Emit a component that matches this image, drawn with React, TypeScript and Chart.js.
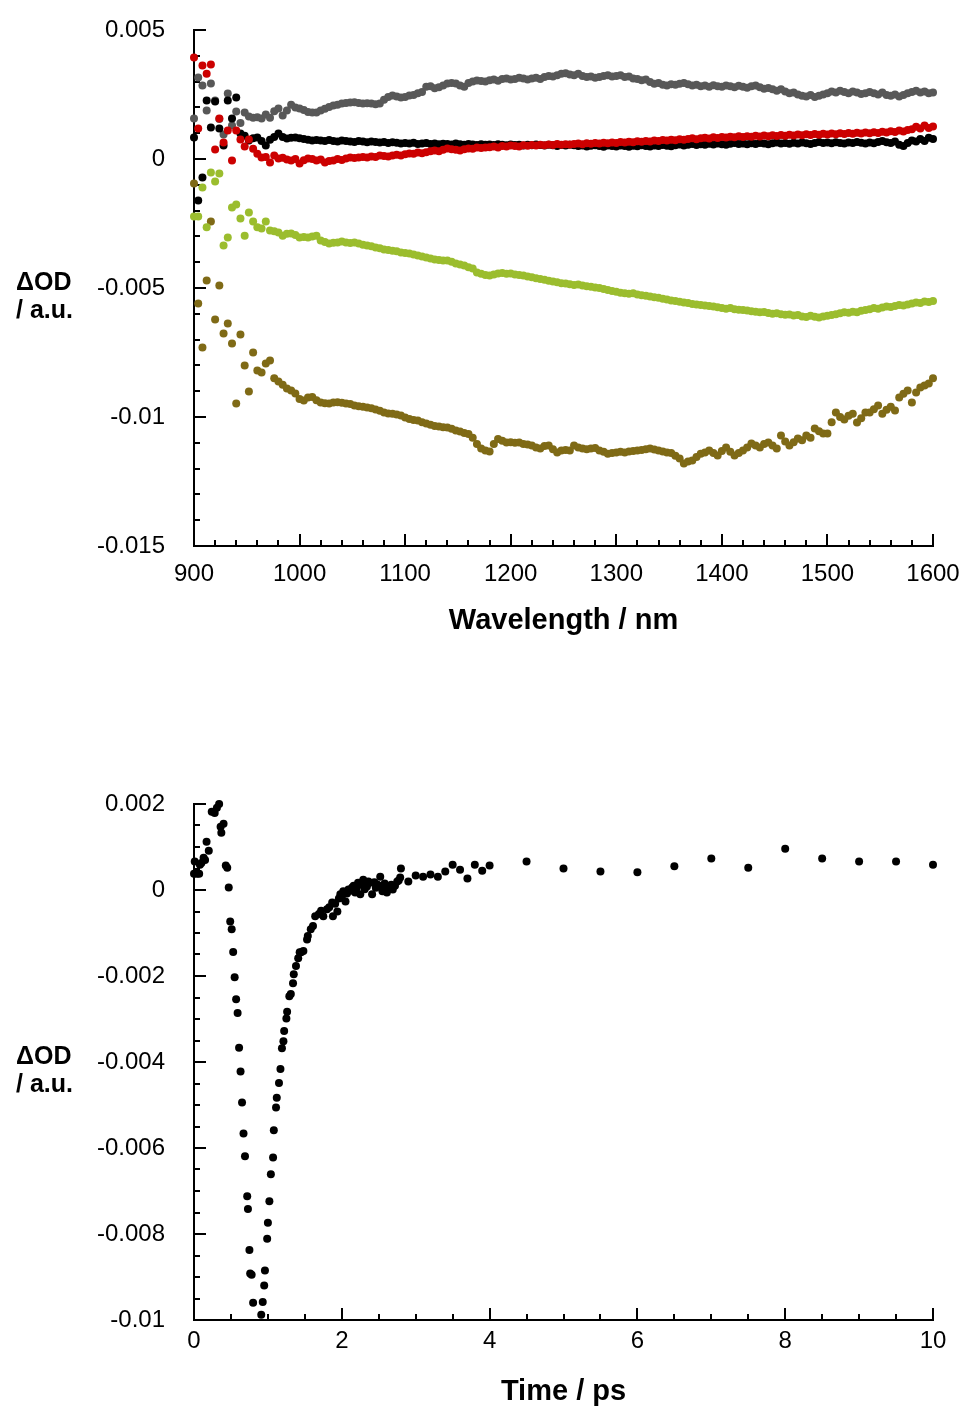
import React, { useEffect, useRef } from 'react';
import { Chart, registerables } from 'chart.js';

Chart.register(...registerables);

const FONT = '"Liberation Sans", Arial, Helvetica, sans-serif';
const INK = '#000000';

const GRAY = '#585858';
const BLACK = '#000000';
const RED = '#cc0000';
const LIME = '#9bbd2e';
const OLIVE = '#7f6a16';

// ---------- Spectra (ΔOD in units of 1e-3) ----------
const wavelengths = [
  900, 904, 908, 912, 916, 920, 924, 928, 932, 936,
  940, 944, 948, 952, 956, 960, 964, 968, 972, 976,
  980, 984, 988, 992, 996, 1000, 1004, 1008, 1012, 1016,
  1020, 1024, 1028, 1032, 1036, 1040, 1044, 1048, 1052, 1056,
  1060, 1064, 1068, 1072, 1076, 1080, 1084, 1088, 1092, 1096,
  1100, 1104, 1108, 1112, 1116, 1120, 1124, 1128, 1132, 1136,
  1140, 1144, 1148, 1152, 1156, 1160, 1164, 1168, 1172, 1176,
  1180, 1184, 1188, 1192, 1196, 1200, 1204, 1208, 1212, 1216,
  1220, 1224, 1228, 1232, 1236, 1240, 1244, 1248, 1252, 1256,
  1260, 1264, 1268, 1272, 1276, 1280, 1284, 1288, 1292, 1296,
  1300, 1304, 1308, 1312, 1316, 1320, 1324, 1328, 1332, 1336,
  1340, 1344, 1348, 1352, 1356, 1360, 1364, 1368, 1372, 1376,
  1380, 1384, 1388, 1392, 1396, 1400, 1404, 1408, 1412, 1416,
  1420, 1424, 1428, 1432, 1436, 1440, 1444, 1448, 1452, 1456,
  1460, 1464, 1468, 1472, 1476, 1480, 1484, 1488, 1492, 1496,
  1500, 1504, 1508, 1512, 1516, 1520, 1524, 1528, 1532, 1536,
  1540, 1544, 1548, 1552, 1556, 1560, 1564, 1568, 1572, 1576,
  1580, 1584, 1588, 1592, 1596, 1600,
];

const grayTrace = [
  1.57, 3.16, 2.85, 1.88, 2.93, 2.27, 1.55, 0.95, 2.54, 1.30,
  1.84, 1.40, 1.80, 1.65, 1.60, 1.62, 1.57, 1.72, 1.60, 1.85,
  1.96, 1.69, 1.88, 2.10, 2.00, 1.96, 1.90, 1.82, 1.80, 1.80,
  1.88, 1.95, 2.02, 2.07, 2.10, 2.15, 2.17, 2.19, 2.20, 2.17,
  2.15, 2.16, 2.15, 2.12, 2.15, 2.30, 2.40, 2.46, 2.42, 2.38,
  2.40, 2.46, 2.48, 2.55, 2.60, 2.80, 2.82, 2.74, 2.78, 2.85,
  2.93, 2.95, 2.93, 2.85, 2.80, 2.95, 3.00, 3.04, 3.02, 3.00,
  3.05, 3.08, 3.03, 3.10, 3.12, 3.08, 3.10, 3.15, 3.12, 3.08,
  3.12, 3.15, 3.10, 3.18, 3.22, 3.20, 3.25, 3.30, 3.32, 3.28,
  3.25, 3.30, 3.22, 3.18, 3.20, 3.15, 3.18, 3.22, 3.25, 3.20,
  3.22, 3.25, 3.18, 3.20, 3.12, 3.10, 3.05, 3.08, 2.98, 2.92,
  2.95, 2.88, 2.85, 2.90, 2.88, 2.92, 2.95, 2.90, 2.85, 2.88,
  2.82, 2.85, 2.80, 2.86, 2.82, 2.80, 2.85, 2.82, 2.78, 2.84,
  2.80, 2.76, 2.82, 2.85, 2.78, 2.72, 2.75, 2.70, 2.65, 2.70,
  2.62, 2.55, 2.58, 2.50, 2.45, 2.42, 2.48, 2.40, 2.45, 2.50,
  2.55, 2.62, 2.58, 2.65, 2.60, 2.55, 2.62, 2.58, 2.52, 2.55,
  2.60, 2.55, 2.50, 2.58, 2.48, 2.45, 2.50, 2.42, 2.48, 2.55,
  2.60, 2.65, 2.58, 2.62, 2.55, 2.58,
];

const blackTrace = [
  0.83, -1.61, -0.72, 2.27, 1.22, 2.23, 1.18, 0.52, 2.27, 1.57,
  2.38, 0.99, 0.90, 0.72, 0.80, 0.83, 0.70, 0.52, 0.75, 0.85,
  0.99, 0.85, 0.79, 0.82, 0.83, 0.80, 0.78, 0.75, 0.72, 0.74,
  0.72, 0.70, 0.74, 0.70, 0.68, 0.72, 0.70, 0.68, 0.66, 0.70,
  0.68, 0.65, 0.68, 0.66, 0.64, 0.66, 0.62, 0.65, 0.63, 0.60,
  0.62, 0.60, 0.63, 0.58, 0.60, 0.62, 0.58, 0.60, 0.57, 0.59,
  0.58, 0.56, 0.60, 0.57, 0.55, 0.58, 0.56, 0.54, 0.57, 0.55,
  0.56, 0.54, 0.57, 0.55, 0.53, 0.56, 0.54, 0.55, 0.52, 0.55,
  0.53, 0.56, 0.54, 0.52, 0.55, 0.53, 0.50, 0.54, 0.52, 0.55,
  0.53, 0.50, 0.52, 0.48, 0.51, 0.53, 0.50, 0.47, 0.52, 0.50,
  0.48, 0.52, 0.50, 0.47, 0.51, 0.49, 0.53, 0.50, 0.48, 0.52,
  0.50, 0.54, 0.51, 0.49, 0.53, 0.56, 0.52, 0.55, 0.58, 0.54,
  0.57, 0.55, 0.59, 0.56, 0.60, 0.57, 0.55, 0.59, 0.62, 0.58,
  0.60, 0.57, 0.61, 0.58, 0.62, 0.60, 0.57, 0.61, 0.64, 0.60,
  0.62, 0.59, 0.63, 0.60, 0.64, 0.61, 0.58, 0.62, 0.66, 0.62,
  0.64, 0.61, 0.65, 0.62, 0.60, 0.64, 0.62, 0.66, 0.63, 0.60,
  0.64, 0.61, 0.66, 0.70, 0.65, 0.62, 0.68, 0.55, 0.50, 0.62,
  0.72, 0.68, 0.78, 0.70, 0.82, 0.78,
];

const redTrace = [
  3.93, 1.18, 3.62, 3.30, 3.66, 0.37, 1.57, 0.64, 1.10, -0.06,
  1.10, 0.76, 0.48, 0.76, 0.40, 0.20, 0.06, 0.08, -0.14, 0.14,
  0.02, 0.05, -0.02, -0.06, 0.00, -0.17, -0.05, 0.02, 0.00, -0.06,
  -0.02, -0.14, -0.08, -0.06, 0.00, -0.04, 0.02, 0.06, 0.04, 0.06,
  0.08, 0.06, 0.10, 0.08, 0.14, 0.12, 0.10, 0.14, 0.16, 0.14,
  0.18, 0.21, 0.20, 0.25, 0.22, 0.26, 0.30, 0.33, 0.30, 0.36,
  0.41, 0.38, 0.36, 0.33, 0.38, 0.41, 0.40, 0.45, 0.43, 0.45,
  0.46, 0.48, 0.45, 0.50, 0.48, 0.52, 0.50, 0.48, 0.53, 0.51,
  0.54, 0.52, 0.55, 0.53, 0.56, 0.54, 0.58, 0.55, 0.57, 0.56,
  0.58, 0.60, 0.57, 0.61, 0.59, 0.62, 0.60, 0.63, 0.61, 0.64,
  0.62, 0.66, 0.64, 0.67, 0.65, 0.69, 0.67, 0.70, 0.68, 0.72,
  0.70, 0.74, 0.72, 0.75, 0.73, 0.77, 0.75, 0.78, 0.80, 0.77,
  0.80, 0.82, 0.79, 0.84, 0.81, 0.85, 0.83, 0.86, 0.84, 0.88,
  0.85, 0.88, 0.86, 0.90, 0.87, 0.91, 0.88, 0.92, 0.89, 0.93,
  0.90, 0.94, 0.91, 0.95, 0.92, 0.96, 0.93, 0.97, 0.94, 0.98,
  0.95, 0.99, 0.96, 1.00, 0.97, 1.01, 0.98, 1.02, 0.99, 1.03,
  1.00, 1.04, 1.01, 1.06, 1.03, 1.08, 1.05, 1.10, 1.07, 1.12,
  1.15, 1.25, 1.18, 1.30, 1.20, 1.26,
];

const limeTrace = [
  -2.23, -2.23, -1.10, -2.65, -0.52, -0.87, -0.56, -3.35, -3.04, -1.88,
  -1.76, -2.31, -2.97, -2.07, -2.42, -2.65, -2.69, -2.42, -2.77, -2.80,
  -2.85, -2.97, -2.90, -2.89, -2.95, -3.04, -3.02, -3.04, -3.00, -2.97,
  -3.16, -3.22, -3.28, -3.25, -3.24, -3.20, -3.24, -3.26, -3.24, -3.28,
  -3.32, -3.35, -3.38, -3.43, -3.46, -3.51, -3.53, -3.56, -3.58, -3.62,
  -3.64, -3.66, -3.70, -3.74, -3.78, -3.82, -3.86, -3.90, -3.91, -3.93,
  -3.93, -3.98, -4.05, -4.09, -4.13, -4.20, -4.24, -4.40, -4.45, -4.50,
  -4.52, -4.48, -4.44, -4.42, -4.45, -4.44, -4.48, -4.50, -4.52, -4.55,
  -4.58, -4.62, -4.65, -4.68, -4.72, -4.75, -4.78, -4.82, -4.83, -4.85,
  -4.88, -4.86, -4.90, -4.93, -4.95, -4.98, -5.00, -5.04, -5.08, -5.12,
  -5.15, -5.18, -5.20, -5.22, -5.20, -5.25, -5.28, -5.30, -5.33, -5.36,
  -5.38, -5.42, -5.45, -5.48, -5.50, -5.53, -5.56, -5.58, -5.62, -5.64,
  -5.66, -5.68, -5.70, -5.72, -5.75, -5.78, -5.80, -5.78, -5.82, -5.84,
  -5.85, -5.87, -5.90, -5.92, -5.94, -5.93, -5.97, -6.00, -5.98, -6.02,
  -6.04, -6.03, -6.07, -6.05, -6.10, -6.12, -6.08, -6.11, -6.14, -6.10,
  -6.08, -6.05, -6.02, -5.98, -5.94, -5.96, -5.92, -5.94, -5.88, -5.85,
  -5.82, -5.78, -5.80, -5.76, -5.72, -5.74, -5.70, -5.66, -5.68, -5.64,
  -5.60, -5.56, -5.58, -5.52, -5.54, -5.50,
];

const oliveTrace = [
  -0.95, -5.60, -7.31, -4.71, -2.42, -6.22, -4.90, -6.76, -6.38, -7.15,
  -9.48, -6.80, -8.00, -9.01, -7.50, -8.20, -8.28, -7.93, -7.81, -8.50,
  -8.62, -8.75, -8.90, -8.97, -9.09, -9.30, -9.36, -9.24, -9.22, -9.35,
  -9.44, -9.47, -9.48, -9.44, -9.43, -9.45, -9.48, -9.50, -9.55, -9.58,
  -9.60, -9.63, -9.66, -9.71, -9.76, -9.83, -9.86, -9.87, -9.90, -9.94,
  -10.02, -10.08, -10.12, -10.14, -10.20, -10.25, -10.30, -10.35, -10.37, -10.40,
  -10.41, -10.46, -10.52, -10.56, -10.62, -10.66, -10.80, -11.05, -11.22, -11.30,
  -11.34, -11.05, -10.85, -10.92, -10.99, -10.98, -11.00, -10.99, -11.05, -11.07,
  -11.10, -11.18, -11.22, -11.12, -11.10, -11.25, -11.38, -11.30, -11.28, -11.30,
  -11.10, -11.18, -11.22, -11.25, -11.22, -11.20, -11.30, -11.35, -11.42, -11.40,
  -11.38, -11.35, -11.38, -11.34, -11.32, -11.30, -11.28, -11.25, -11.22, -11.26,
  -11.30, -11.34, -11.38, -11.40, -11.50, -11.61, -11.80, -11.72, -11.69, -11.55,
  -11.42, -11.38, -11.30, -11.40, -11.49, -11.32, -11.18, -11.35, -11.49, -11.40,
  -11.30, -11.18, -11.03, -11.10, -11.18, -11.05, -10.99, -11.10, -11.22, -10.72,
  -10.95, -11.10, -10.98, -10.83, -10.90, -10.72, -10.80, -10.45, -10.55, -10.64,
  -10.64, -10.20, -9.83, -10.00, -10.10, -9.95, -9.87, -10.21, -10.05, -9.83,
  -9.83, -9.70, -9.55, -9.87, -9.72, -9.60, -9.75, -9.24, -9.10, -8.97,
  -9.44, -9.05, -8.86, -8.78, -8.70, -8.50,
];

// ---------- Kinetics (time in ps, ΔOD in units of 1e-3) ----------
const kineticTimes = [
  0.00, 0.01, 0.04, 0.07, 0.08, 0.10, 0.13, 0.15, 0.17, 0.20,
  0.24, 0.28, 0.31, 0.34, 0.36, 0.37, 0.40, 0.43, 0.45, 0.47,
  0.49, 0.51, 0.53, 0.55, 0.57, 0.59, 0.61, 0.63, 0.65, 0.67,
  0.69, 0.72, 0.73, 0.75, 0.76, 0.78, 0.80, 0.91, 0.93, 0.95,
  0.96, 0.99, 1.00, 1.02, 1.04, 1.07, 1.08, 1.11, 1.12, 1.15,
  1.17, 1.19, 1.21, 1.22, 1.25, 1.26, 1.29, 1.31, 1.34, 1.35,
  1.38, 1.41, 1.43, 1.45, 1.48, 1.53, 1.54, 1.58, 1.61, 1.64,
  1.69, 1.72, 1.75, 1.80, 1.83, 1.87, 1.88, 1.91, 1.94, 1.96,
  1.98, 2.00, 2.02, 2.05, 2.07, 2.09, 2.11, 2.14, 2.16, 2.18,
  2.20, 2.22, 2.25, 2.27, 2.29, 2.31, 2.34, 2.36, 2.38, 2.41,
  2.44, 2.46, 2.48, 2.50, 2.52, 2.55, 2.56, 2.58, 2.61, 2.63,
  2.65, 2.67, 2.69, 2.72, 2.75, 2.77, 2.79, 2.80, 2.90, 3.00,
  3.10, 3.20, 3.30, 3.40, 3.50, 3.60, 3.70, 3.80, 3.90, 4.00,
  4.50, 5.00, 5.50, 6.00, 6.50, 7.00, 7.50, 8.00, 8.50, 9.00,
  9.50, 10.00,
];

const kineticValues = [
  0.38, 0.66, 0.38, 0.38, 0.59, 0.63, 0.75, 0.70, 1.12, 0.91,
  1.82, 1.79, 1.91, 2.00, 1.47, 1.33, 1.54, 0.57, 0.52, 0.06,
  -0.73, -0.91, -1.44, -2.03, -2.54, -2.86, -3.67, -4.22, -4.94, -5.66,
  -6.19, -7.12, -7.42, -8.37, -8.92, -8.95, -9.60, -9.88, -9.58, -9.20,
  -8.85, -8.11, -7.74, -7.24, -6.61, -6.22, -5.59, -5.06, -4.83, -4.49,
  -4.16, -3.68, -3.52, -3.28, -2.99, -2.83, -2.47, -2.42, -2.17, -1.96,
  -1.77, -1.59, -1.45, -1.45, -1.42, -1.15, -1.07, -0.91, -0.84, -0.61,
  -0.56, -0.48, -0.61, -0.45, -0.40, -0.29, -0.61, -0.32, -0.50, -0.20,
  -0.10, -0.18, -0.03, -0.27, -0.08, 0.01, -0.02, 0.06, 0.10, -0.06,
  0.04, 0.17, -0.10, 0.12, 0.24, 0.02, 0.08, 0.20, 0.17, -0.10,
  0.18, 0.05, 0.13, 0.10, 0.31, -0.03, 0.08, 0.15, -0.06, 0.02,
  0.08, 0.12, 0.01, 0.10, 0.20, 0.22, 0.29, 0.50, 0.20, 0.34,
  0.31, 0.36, 0.31, 0.43, 0.59, 0.47, 0.27, 0.59, 0.45, 0.57,
  0.66, 0.50, 0.43, 0.41, 0.55, 0.73, 0.52, 0.96, 0.73, 0.66,
  0.66, 0.59,
];

// ---------- Axis tick specs ----------
type TickSpec = { min: number; max: number; major: number; minor: number };
const spectraX: TickSpec = { min: 900, max: 1600, major: 100, minor: 20 };
const spectraY: TickSpec = { min: -15, max: 5, major: 5, minor: 1 };
const kineticsX: TickSpec = { min: 0, max: 10, major: 2, minor: 0.5 };
const kineticsY: TickSpec = { min: -10, max: 2, major: 2, minor: 0.5 };

const Y_TITLE = ['\u0394OD', '/ a.u.'];

function inwardTicks(xs: TickSpec, ys: TickSpec) {
  return {
    id: 'inwardTicks',
    beforeDatasetsDraw(chart: any) {
      const { ctx, chartArea, scales } = chart;
      ctx.save();
      ctx.strokeStyle = INK;
      ctx.lineWidth = 2;
      ctx.beginPath();
      const nx = Math.round((xs.max - xs.min) / xs.minor);
      const px = Math.round(xs.major / xs.minor);
      for (let i = 0; i <= nx; i++) {
        const p = Math.round(scales.x.getPixelForValue(xs.min + i * xs.minor));
        const len = i % px === 0 ? 12 : 6;
        ctx.moveTo(p, chartArea.bottom);
        ctx.lineTo(p, chartArea.bottom - len);
      }
      const ny = Math.round((ys.max - ys.min) / ys.minor);
      const py = Math.round(ys.major / ys.minor);
      for (let i = 0; i <= ny; i++) {
        const p = Math.round(scales.y.getPixelForValue(ys.min + i * ys.minor));
        const len = i % py === 0 ? 12 : 6;
        ctx.moveTo(chartArea.left, p);
        ctx.lineTo(chartArea.left + len, p);
      }
      ctx.stroke();
      ctx.restore();
    },
  };
}

function sideTitle(baselines: number[]) {
  return {
    id: 'sideTitle',
    afterDraw(chart: any) {
      const { ctx } = chart;
      ctx.save();
      ctx.font = `bold 25px ${FONT}`;
      ctx.fillStyle = INK;
      ctx.textAlign = 'left';
      ctx.textBaseline = 'alphabetic';
      Y_TITLE.forEach((t, i) => ctx.fillText(t, 16, baselines[i]));
      ctx.restore();
    },
  };
}

function buildConfig(opts: {
  datasets: any[];
  xs: TickSpec;
  ys: TickSpec;
  xTitle: string;
  height: number;
  areaTop: number;
  areaBottom: number;
  xLabelPad: number;
  xTitlePad: number;
  titleBaselines: number[];
}) {
  const tickFont = { family: FONT, size: 24 };
  return {
    type: 'scatter',
    data: { datasets: opts.datasets },
    options: {
      responsive: false,
      maintainAspectRatio: false,
      animation: false,
      events: [],
      layout: { padding: { top: opts.areaTop, right: 26, left: 0, bottom: 0 } },
      plugins: { legend: { display: false }, tooltip: { enabled: false } },
      scales: {
        x: {
          type: 'linear',
          min: opts.xs.min,
          max: opts.xs.max,
          grid: { display: false, drawTicks: false },
          border: { display: true, color: INK, width: 2 },
          ticks: {
            stepSize: opts.xs.major,
            autoSkip: false,
            maxRotation: 0,
            padding: opts.xLabelPad,
            color: INK,
            font: tickFont,
            callback: (v: any) => String(v),
          },
          title: {
            display: true,
            text: opts.xTitle,
            color: INK,
            font: { family: FONT, size: 29, weight: 'bold' },
            padding: { top: 0, bottom: opts.xTitlePad },
          },
          afterFit: (s: any) => {
            s.height = opts.height - opts.areaBottom;
            s.paddingLeft = 0;
            s.paddingRight = 0;
          },
        },
        y: {
          type: 'linear',
          min: opts.ys.min,
          max: opts.ys.max,
          grid: { display: false, drawTicks: false },
          border: { display: true, color: INK, width: 2 },
          ticks: {
            stepSize: opts.ys.major,
            autoSkip: false,
            padding: 29,
            color: INK,
            font: tickFont,
            callback: (v: any) => String(Number(v) / 1000),
          },
          afterFit: (s: any) => {
            s.width = 194;
            s.paddingTop = 0;
            s.paddingBottom = 0;
          },
        },
      },
    },
    plugins: [inwardTicks(opts.xs, opts.ys), sideTitle(opts.titleBaselines)],
  };
}

function dotStyle(color: string) {
  return {
    showLine: false,
    pointRadius: 4,
    pointHoverRadius: 4,
    pointBorderWidth: 0,
    pointBackgroundColor: color,
    pointBorderColor: color,
    clip: false,
  };
}

function spectraConfig() {
  const series = [
    { values: redTrace, color: RED },
    { values: blackTrace, color: BLACK },
    { values: grayTrace, color: GRAY },
    { values: limeTrace, color: LIME },
    { values: oliveTrace, color: OLIVE },
  ];
  return buildConfig({
    datasets: series.map((s) => ({
      data: wavelengths.map((w, i) => ({ x: w, y: s.values[i] })),
      ...dotStyle(s.color),
    })),
    xs: spectraX,
    ys: spectraY,
    xTitle: 'Wavelength / nm',
    height: 700,
    areaTop: 30,
    areaBottom: 546,
    xLabelPad: 14,
    xTitlePad: 62,
    titleBaselines: [290, 318],
  });
}

function kineticsConfig() {
  return buildConfig({
    datasets: [
      {
        data: kineticTimes.map((t, i) => ({ x: t, y: kineticValues[i] })),
        ...dotStyle(BLACK),
      },
    ],
    xs: kineticsX,
    ys: kineticsY,
    xTitle: 'Time / ps',
    height: 710,
    areaTop: 104,
    areaBottom: 620,
    xLabelPad: 7,
    xTitlePad: 1,
    titleBaselines: [364, 392],
  });
}

function ChartCanvas({ make, top, height }: { make: () => any; top: number; height: number }) {
  const ref = useRef<HTMLCanvasElement | null>(null);
  useEffect(() => {
    if (!ref.current) return;
    const chart = new Chart(ref.current, make());
    return () => chart.destroy();
  }, [make]);
  return (
    <canvas
      ref={ref}
      width={959}
      height={height}
      style={{ position: 'absolute', left: 0, top, width: 959, height, display: 'block' }}
    />
  );
}

export default function App() {
  return (
    <div style={{ position: 'absolute', left: 0, top: 0, width: 959, height: 1410, background: '#ffffff', overflow: 'hidden' }}>
      <ChartCanvas make={spectraConfig} top={0} height={700} />
      <ChartCanvas make={kineticsConfig} top={700} height={710} />
    </div>
  );
}
